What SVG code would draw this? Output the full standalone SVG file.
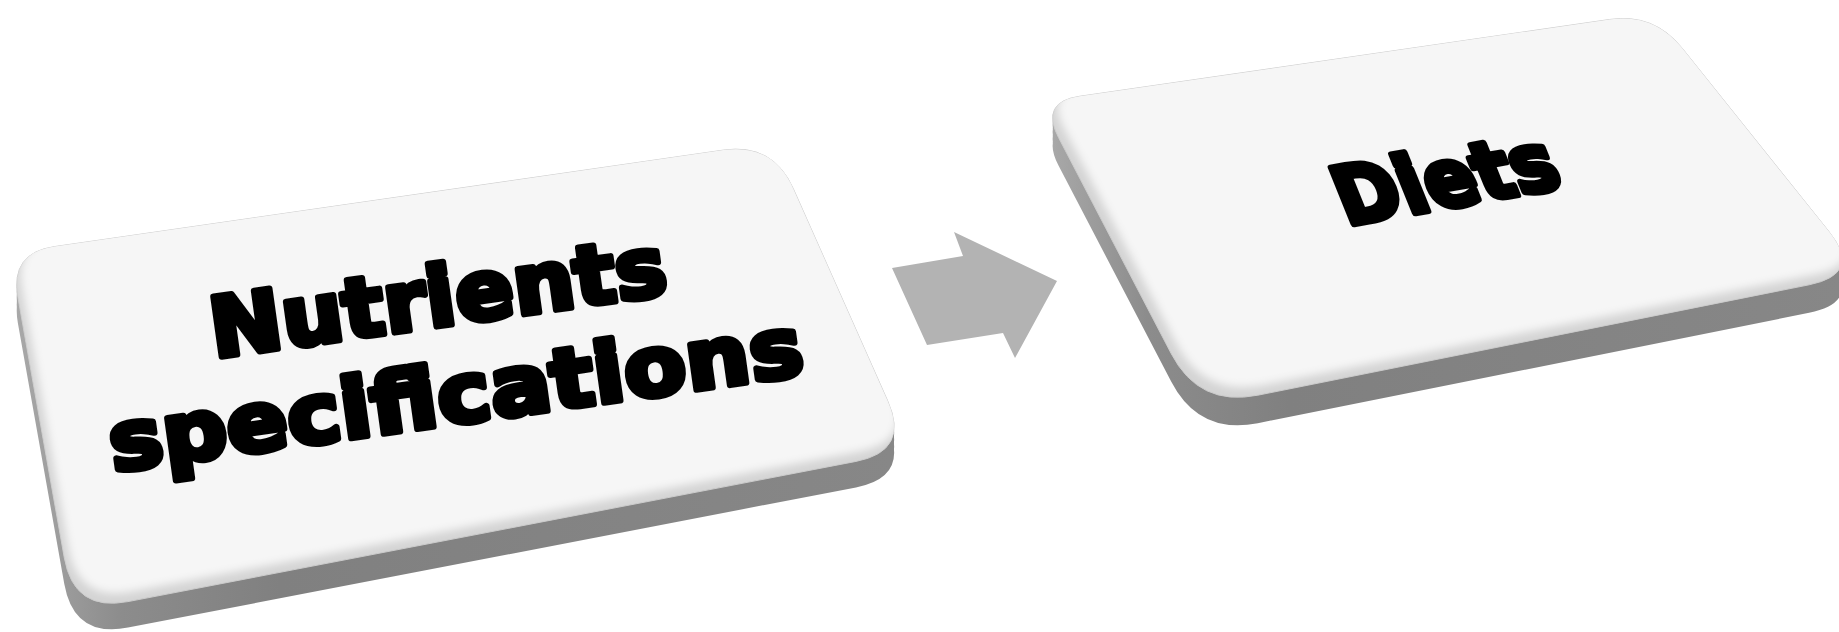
<svg xmlns="http://www.w3.org/2000/svg" width="1839" height="632" viewBox="0 0 1839 632">
<style>
.lbl{font-family:"DejaVu Sans","Liberation Sans",sans-serif;font-weight:bold;fill:#000;stroke:#000;stroke-width:6;stroke-linejoin:round;text-anchor:middle}
.side{fill:url(#sideG)}
.bevel{fill:#d4d4d4;stroke:#cccccc;stroke-width:1}
.face{fill:#f6f6f6;filter:url(#soft)}
.arrow{fill:#b3b3b3}
</style>
<defs>
<linearGradient id="sideG" x1="0" y1="0" x2="1" y2="0">
<stop offset="0" stop-color="#a8a8a8"/>
<stop offset="0.12" stop-color="#8c8c8c"/>
<stop offset="0.3" stop-color="#808080"/>
<stop offset="1" stop-color="#878787"/>
</linearGradient>
<filter id="soft" x="-5%" y="-5%" width="110%" height="110%"><feGaussianBlur stdDeviation="4"/></filter>
<path id="t1" d="M 54.5,246.6 L 723.5,150.1 Q 773,143 793.3,188.7 L 887.6,400.7 Q 910,451 856,461.4 L 128,601.6 Q 74,612 64.3,557.9 L 17.9,297.3 Q 10,253 54.5,246.6 Z"/>
<path id="t2" d="M 1079.6,96.3 L 1609.5,19.5 Q 1654,13 1682.1,48.1 L 1828.6,231.1 Q 1863,274 1809.1,284.8 L 1257.8,395.2 Q 1199,407 1171.3,353.8 L 1058.5,137.5 Q 1040,102 1079.6,96.3 Z"/>
<clipPath id="c1"><use href="#t1"/></clipPath>
<clipPath id="c2"><use href="#t2"/></clipPath>
</defs>
<g id="connectors">
<polygon class="arrow" points="892,268 963,256 954,232 1057,281 1015,358 1003,333 927,345"/>
</g>
<g id="node-nutrients">
<use href="#t1" class="side" transform="translate(0,26)"/>
<use href="#t1" class="side" transform="translate(0,20)"/>
<use href="#t1" class="side" transform="translate(0,13)"/>
<use href="#t1" class="side" transform="translate(0,7)"/>
<use href="#t1" class="bevel"/>
<g clip-path="url(#c1)"><use href="#t1" class="face" transform="translate(4,-10)"/></g>
<g transform="translate(443,334) rotate(-8) scale(1,1.04)">
<text class="lbl" x="0" y="-8" font-size="80" textLength="460" lengthAdjust="spacingAndGlyphs">Nutrients</text>
<text class="lbl" x="4" y="87" font-size="80" textLength="700" lengthAdjust="spacingAndGlyphs">specifications</text>
</g>
</g>
<g id="node-diets">
<use href="#t2" class="side" transform="translate(0,28)"/>
<use href="#t2" class="side" transform="translate(0,21)"/>
<use href="#t2" class="side" transform="translate(0,14)"/>
<use href="#t2" class="side" transform="translate(0,7)"/>
<use href="#t2" class="bevel"/>
<g clip-path="url(#c2)"><use href="#t2" class="face" transform="translate(5,-10)"/></g>
<g transform="translate(1456,206) rotate(-10) skewX(12) scale(1,1.1)">
<text class="lbl" x="0" y="0" font-size="74" textLength="222" lengthAdjust="spacingAndGlyphs">Diets</text>
</g>
</g>
</svg>
